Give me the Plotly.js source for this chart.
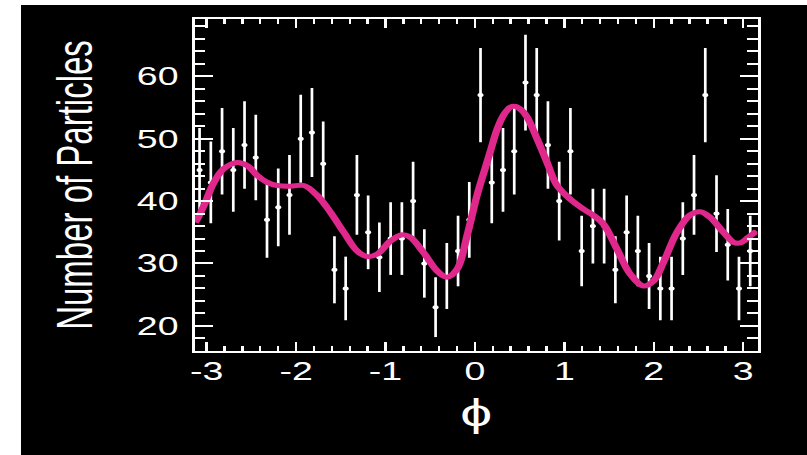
<!DOCTYPE html>
<html>
<head>
<meta charset="utf-8">
<script src="https://cdn.plot.ly/plotly-3.0.1.min.js"></script>
<style>
  html, body { margin: 0; padding: 0; background: #ffffff; width: 807px; height: 455px; overflow: hidden; }
  #chart { position: absolute; left: 21px; top: 5px; width: 524px; height: 450px;
           transform: scaleX(1.5); transform-origin: 0 0; }
</style>
</head>
<body>
<div id="chart"></div>
<script>
// Bin centres in phi (50 bins over -pi..pi)
const phiBins = [-3.0788, -2.9531, -2.8274, -2.7018, -2.5761, -2.4504, -2.3248, -2.1991, -2.0735, -1.9478,
                 -1.8221, -1.6965, -1.5708, -1.4451, -1.3195, -1.1938, -1.0681, -0.9425, -0.8168, -0.6912,
                 -0.5655, -0.4398, -0.3142, -0.1885, -0.0628, 0.0628, 0.1885, 0.3142, 0.4398, 0.5655,
                 0.6912, 0.8168, 0.9425, 1.0681, 1.1938, 1.3195, 1.4451, 1.5708, 1.6965, 1.8221,
                 1.9478, 2.0735, 2.1991, 2.3248, 2.4504, 2.5761, 2.7018, 2.8274, 2.9531, 3.0788];
// Number of particles per bin
const counts = [45, 43, 48, 45, 49, 47, 37, 39, 41, 50,
                51, 46, 29, 26, 41, 35, 31, 34, 34, 40,
                30, 23, 28, 32, 37, 57, 43, 45, 48, 59,
                57, 49, 40, 48, 32, 36, 36, 29, 35, 32,
                28, 26, 26, 34, 41, 57, 38, 33, 26, 32];
// Fitted curve
const fitPhi = [-3.128, -3.104, -3.030, -2.918, -2.807, -2.657, -2.545, -2.434, -2.322, -2.210, -2.061,
                -1.913, -1.763, -1.615, -1.466, -1.316, -1.204, -1.093, -0.944, -0.813, -0.721,
                -0.572, -0.422, -0.311, -0.199, -0.087, 0.025, 0.100, 0.173, 0.250, 0.330, 0.400, 0.453, 0.520, 0.583,
                0.695, 0.807, 0.918, 1.067, 1.216, 1.327, 1.439, 1.589, 1.737, 1.886,
                1.998, 2.109, 2.259, 2.408, 2.520, 2.631, 2.780, 2.892, 2.966, 3.059, 3.150];
const fitVal = [36.6, 37.1, 39.3, 43.0, 45.2, 46.2, 45.7, 44.1, 43.0, 42.5, 42.4,
                42.5, 40.9, 38.2, 35.0, 32.0, 31.1, 31.5, 33.6, 34.6, 34.2,
                31.7, 28.8, 27.8, 29.1, 34.5, 41.0, 44.6, 48.0, 51.6, 54.0, 55.1, 55.2, 54.6, 53.5,
                50.0, 46.2, 42.5, 40.3, 38.7, 37.7, 36.3, 32.3, 28.3, 26.4,
                27.2, 30.2, 35.0, 37.8, 38.3, 37.4, 35.0, 33.4, 33.3, 34.2, 35.2];
// Tick labels
const xTickVals = [-3, -2, -1, 0, 1, 2, 3];
const xTickText = ['-3', '-2', '-1', '0', '1', '2', '3'];
const yTickVals = [20, 30, 40, 50, 60];
const yTickText = ['20', '30', '40', '50', '60'];

const FONT = 'Liberation Sans, Arial, Helvetica, sans-serif';
const PINK = '#e0288c';

const traces = [
  {
    x: phiBins, y: counts, type: 'scatter', mode: 'markers',
    marker: { color: '#ffffff', size: 4 },
    error_y: { type: 'sqrt', visible: true, color: '#ffffff', thickness: 1.8, width: 0 },
    hoverinfo: 'x+y', showlegend: false
  },
  {
    x: fitPhi, y: fitVal, type: 'scatter', mode: 'lines',
    line: { color: PINK, width: 5, shape: 'spline', smoothing: 1 },
    showlegend: false
  }
];

const axisCommon = {
  showgrid: false, zeroline: false, showline: true, linecolor: '#ffffff',
  mirror: 'ticks', ticks: 'inside', tickcolor: '#ffffff',
  tickfont: { family: FONT, size: 25, color: '#ffffff' }
};

const layout = {
  width: 524, height: 450,
  margin: { l: 115.7, r: 33, t: 13.5, b: 104.3 },
  paper_bgcolor: '#000000', plot_bgcolor: '#000000',
  showlegend: false,
  xaxis: Object.assign({}, axisCommon, {
    range: [-3.13, 3.16], tickmode: 'array', tickvals: xTickVals, ticktext: xTickText,
    ticklen: 9, tickwidth: 1.6, linewidth: 1.8,
    ticklabelstandoff: -3,
    minor: { dtick: 0.2, tick0: 0, ticks: 'inside', ticklen: 5, tickwidth: 1.6, tickcolor: '#ffffff' },
    title: { text: 'ϕ', font: { family: FONT, size: 38, color: '#ffffff' }, standoff: 16 }
  }),
  yaxis: Object.assign({}, axisCommon, {
    range: [15.97, 69.2], tickmode: 'array', tickvals: yTickVals, ticktext: yTickText,
    ticklen: 12, tickwidth: 2, linewidth: 2,
    ticklabelstandoff: 4,
    minor: { dtick: 2, tick0: 0, ticks: 'inside', ticklen: 6.7, tickwidth: 2, tickcolor: '#ffffff' },
    title: { text: 'Number of Particles', font: { family: FONT, size: 33, color: '#ffffff' }, standoff: 19 }
  })
};

Plotly.newPlot('chart', traces, layout, { displayModeBar: false, staticPlot: true });
</script>
</body>
</html>
